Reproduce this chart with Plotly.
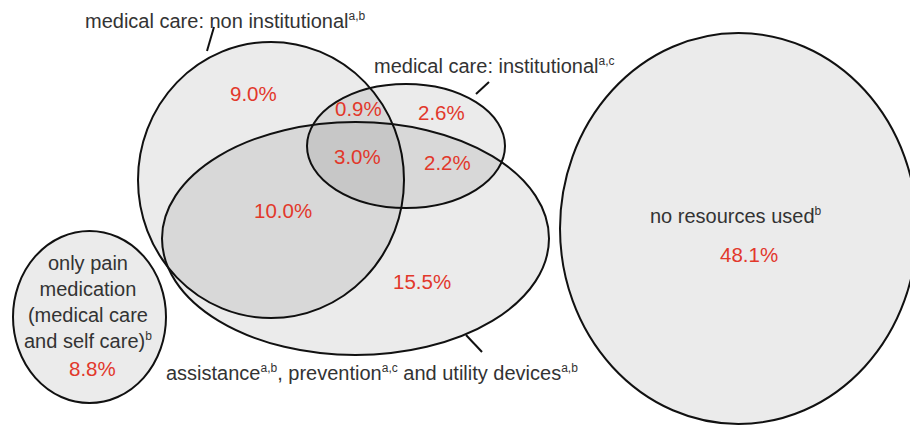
import plotly.graph_objects as go

# ---- data ----
regions = ["non institutional only", "non inst. & institutional", "institutional only",
           "all three", "institutional & assistance", "non inst. & assistance",
           "assistance only", "no resources used", "only pain medication"]
shares = [9.0, 0.9, 2.6, 3.0, 2.2, 10.0, 15.5, 48.1, 8.8]


def sup(s):
    return f"<sup><span style='font-size:12px'>{s}</span></sup>"


set_labels = ["medical care: non institutional" + sup("a,b"),
              "medical care: institutional" + sup("a,c"),
              "assistance" + sup("a,b") + ", prevention" + sup("a,c") + " and utility devices" + sup("a,b"),
              "no resources used" + sup("b"),
              "only pain<br>medication<br>(medical care<br>and self care)" + sup("b")]

# ---- layout (pixel space) ----
W, H = 918, 425
OFF = 8  # page body margin
ellipses = [  # x0, y0, x1, y1
    (138, 42, 404, 318),   # non institutional
    (307, 84, 505, 208),   # institutional
    (162, 122, 549, 355),  # assistance
    (560, 33, 917, 424),   # no resources
    (13, 231, 166, 403),   # pain medication
]
value_pos = [(253, 93), (358, 108), (441, 112), (357, 156), (447, 162),
             (283, 210), (422, 281), (749, 254), (92, 368)]
label_pos = [(225, 20, "center"), (494, 65, "center"), (372, 372, "center"),
             (736, 215, "center"), (88, 302, "center")]
leaders = [((214, 27), (207, 51)), ((489, 82), (476, 94)), ((466, 335), (482, 352))]

RED = "#e2382b"
GREY = "#333333"
FONT = "Liberation Sans, Arial, Helvetica, sans-serif"

fig = go.Figure()
fig.add_trace(go.Scatter(x=[0, W], y=[0, H], mode="markers",
                         marker=dict(opacity=0), hoverinfo="skip", showlegend=False))

shapes = []
for (x0, y0, x1, y1) in ellipses:
    shapes.append(dict(type="circle", xref="x", yref="y", x0=x0, y0=y0, x1=x1, y1=y1,
                       fillcolor="rgba(0,0,0,0.08)", line=dict(color="#111111", width=2),
                       layer="below"))
for (a, b) in leaders:
    shapes.append(dict(type="line", xref="x", yref="y", x0=a[0], y0=a[1], x1=b[0], y1=b[1],
                       line=dict(color="#111111", width=2)))

annotations = []
for v, (x, y) in zip(shares, value_pos):
    annotations.append(dict(x=x, y=y, xref="x", yref="y", text=f"{v:.1f}%", showarrow=False,
                            font=dict(family=FONT, size=20.5, color=RED)))
for t, (x, y, al) in zip(set_labels, label_pos):
    annotations.append(dict(x=x, y=y, xref="x", yref="y", text=t, showarrow=False, align=al,
                            font=dict(family=FONT, size=20, color=GREY)))

fig.update_layout(
    width=W, height=H, margin=dict(l=0, r=0, t=0, b=0),
    paper_bgcolor="white", plot_bgcolor="white",
    xaxis=dict(range=[OFF, W + OFF], visible=False, fixedrange=True),
    yaxis=dict(range=[H + OFF, OFF], visible=False, fixedrange=True),
    shapes=shapes, annotations=annotations, showlegend=False,
)
fig.write_html("out.html")
